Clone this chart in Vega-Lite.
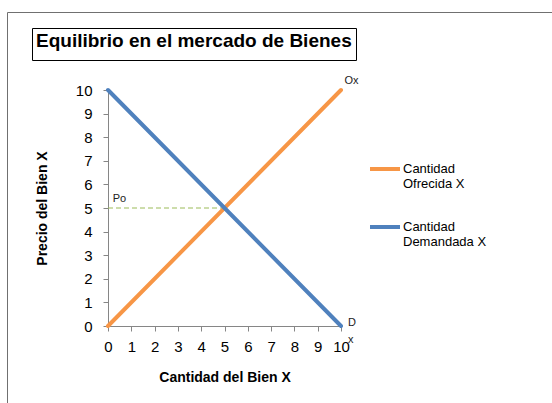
{
  "$schema": "https://vega.github.io/schema/vega-lite/v6.json",
  "background": "white",
  "autosize": {"type": "none"},
  "padding": {"left": 108, "top": 90, "right": 211, "bottom": 77},
  "config": {"font": "Liberation Sans", "view": {"stroke": null}},
  "width": 233,
  "height": 236,
  "encoding": {
    "x": {"field": "x", "type": "quantitative", "scale": {"domain": [0, 10], "nice": false},
      "axis": {"title": "Cantidad del Bien X", "tickCount": 11, "grid": false,
        "domainColor": "#868686", "tickColor": "#868686", "tickSize": 5, "labelFontSize": 15,
        "labelColor": "black", "labelPadding": 8, "labelFlush": false, "labelOverlap": false, "labelSeparation": 0,
        "titleFontSize": 14, "titleFontWeight": "bold", "titleColor": "black", "titlePadding": 16}},
    "y": {"field": "y", "type": "quantitative", "scale": {"domain": [0, 10], "nice": false},
      "axis": {"title": "Precio del Bien X", "tickCount": 11, "grid": false,
        "domainColor": "#868686", "tickColor": "#868686", "tickSize": 5, "labelFontSize": 15,
        "labelColor": "black", "labelPadding": 11, "labelFlush": false, "labelOverlap": false, "labelSeparation": 0,
        "titleFontSize": 14, "titleFontWeight": "bold", "titleColor": "black", "titlePadding": 26}}
  },
  "layer": [
    {
      "data": {"values": [{"x": 0, "y": 5}, {"x": 5, "y": 5}]},
      "mark": {"type": "line", "color": "#9BBB59"},
      "encoding": {
        "strokeDash": {"datum": "Equilibrio en el mercado de Bienes", "type": "nominal", "scale": {"range": [[5, 3]]},
          "legend": {"title": "Equilibrio en el mercado de Bienes", "orient": "none", "legendX": -76, "legendY": -62,
            "titleFontSize": 19, "titleFontWeight": "bold", "titleColor": "black", "titlePadding": 0, "titleLimit": 500,
            "strokeColor": "black", "padding": 4,
            "symbolSize": 0, "symbolOpacity": 0, "symbolStrokeWidth": 0,
            "labelExpr": "''", "labelFontSize": 0}},
        "strokeWidth": {"datum": "marco", "type": "ordinal", "scale": {"range": [1, 1]},
          "legend": {"title": null, "orient": "none", "legendX": -101, "legendY": -78,
            "strokeColor": "#707070", "padding": 0,
            "symbolType": "square", "symbolSize": 360000, "symbolOpacity": 0,
            "labelExpr": "''", "labelFontSize": 0}}
      }
    },
    {
      "data": {"values": [
        {"serie": "Cantidad Ofrecida X", "x": 0, "y": 0},
        {"serie": "Cantidad Ofrecida X", "x": 10, "y": 10},
        {"serie": "Cantidad Demandada X", "x": 0, "y": 10},
        {"serie": "Cantidad Demandada X", "x": 10, "y": 0}
      ]},
      "mark": {"type": "line", "strokeWidth": 4, "strokeCap": "round"},
      "encoding": {
        "color": {"field": "serie", "type": "nominal",
          "scale": {"domain": ["Cantidad Ofrecida X", "Cantidad Demandada X"], "range": ["#F79646", "#4F81BD"]},
          "legend": {"title": null, "orient": "none", "legendX": 260, "legendY": 62,
            "symbolType": "stroke", "symbolStrokeWidth": 4, "symbolSize": 900,
            "labelFontSize": 13, "labelColor": "black", "rowPadding": 19, "labelOffset": 1,
            "labelExpr": "datum.label == 'Cantidad Ofrecida X' ? ['Cantidad', 'Ofrecida X'] : ['Cantidad', 'Demandada X']"}}
      }
    },
    {
      "data": {"values": [
        {"x": 10.15, "y": 10.4, "t": "Ox"},
        {"x": 10.3, "y": 0.13, "t": "D"},
        {"x": 10.3, "y": -0.6, "t": "x"},
        {"x": 0.2, "y": 5.4, "t": "Po"}
      ]},
      "mark": {"type": "text", "align": "left", "baseline": "middle", "fontSize": 11, "color": "#222"},
      "encoding": {
        "text": {"field": "t"}
      }
    }
  ]
}
